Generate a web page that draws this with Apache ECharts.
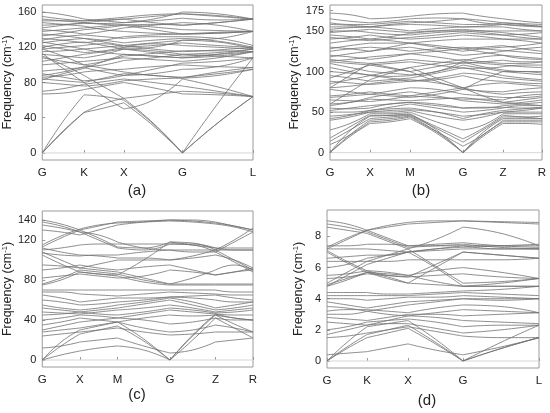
<!DOCTYPE html>
<html>
<head>
<meta charset="utf-8">
<script src="https://cdn.jsdelivr.net/npm/echarts@6/dist/echarts.min.js"></script>
<style>
  html, body { margin: 0; padding: 0; background: #fff; }
  #chart { width: 550px; height: 413px; }
</style>
</head>
<body>
<div id="chart"></div>
<script>
// k-path positions (path length units) and labels for each panel
const kPosA = [0, 42, 82, 141, 212];
const kLabA = ["G", "K", "X", "G", "L"];
const kPosB = [0, 40, 80, 133, 173, 212];
const kLabB = ["G", "X", "M", "G", "Z", "R"];
const kPosC = [0, 38, 76, 129, 175, 213];
const kLabC = ["G", "X", "M", "G", "Z", "R"];
const kPosD = [0, 40, 81, 136, 212];
const kLabD = ["G", "K", "X", "G", "L"];

// y tick labels
const yTicksA = [0, 40, 80, 120, 160];
const yTicksB = [0, 50, 100, 150, 175];
const yTicksC = [0, 40, 80, 120, 140];
const yTicksD = [0, 2, 4, 6, 8];

// sample points along the path: high-symmetry points plus one point mid segment
const sampA = [0, 21, 42, 62, 82, 111.5, 141, 176.5, 212];
const sampB = [0, 20, 40, 60, 80, 106.5, 133, 153, 173, 192.5, 212];
const sampC = [0, 19, 38, 57, 76, 102.5, 129, 152, 175, 194, 213];
const sampD = [0, 20, 40, 60.5, 81, 108.5, 136, 174, 212];

// (a) bands, frequencies in cm-1 read at sampA
const bandsA = [
  [0, 24, 46, 51, 57, 31, 0, 34, 64],
  [0, 25, 46, 56, 62, 34, 0, 34, 64],
  [0, 36, 66, 64, 60, 33, 0, 56, 108],
  [67, 68, 72, 76, 80, 74, 67, 66, 64],
  [70, 73, 78, 81, 84, 80, 76, 70, 64],
  [80, 78, 76, 78, 82, 84, 85, 88, 95],
  [84, 82, 80, 85, 90, 88, 85, 92, 97],
  [86, 88, 92, 94, 95, 98, 100, 98, 97],
  [88, 92, 98, 100, 105, 108, 112, 110, 108],
  [93, 95, 97, 92, 88, 90, 95, 98, 108],
  [100, 102, 104, 106, 108, 106, 104, 108, 115],
  [108, 104, 100, 104, 110, 113, 116, 116, 115],
  [112, 110, 108, 112, 118, 116, 112, 114, 118],
  [115, 116, 118, 120, 122, 118, 115, 117, 120],
  [118, 120, 122, 124, 120, 122, 125, 122, 120],
  [120, 124, 126, 122, 118, 120, 128, 126, 118],
  [125, 128, 130, 128, 125, 128, 130, 127, 120],
  [128, 132, 134, 132, 130, 132, 132, 130, 122],
  [130, 128, 125, 128, 132, 134, 135, 136, 138],
  [133, 136, 140, 142, 145, 140, 135, 137, 138],
  [138, 140, 142, 144, 146, 143, 140, 139, 138],
  [142, 145, 148, 150, 152, 148, 145, 148, 152],
  [145, 146, 147, 147, 148, 150, 153, 151, 152],
  [150, 150, 150, 152, 154, 157, 158, 155, 152],
  [155, 152, 150, 151, 152, 155, 158, 156, 152],
  [160, 157, 152, 150, 148, 152, 160, 158, 152],
  [118, 110, 100, 96, 92, 88, 86, 90, 95],
  [83, 90, 96, 104, 112, 110, 108, 110, 115],
  [110, 100, 88, 75, 62, 66, 70, 68, 64],
  [113, 96, 80, 64, 50, 60, 84, 75, 64],
  [104, 108, 112, 115, 118, 114, 110, 112, 115],
  [122, 118, 114, 116, 120, 124, 122, 120, 118],
  [135, 133, 130, 126, 122, 125, 128, 130, 138],
  [140, 138, 135, 138, 142, 145, 148, 145, 138],
  [148, 146, 144, 140, 138, 136, 135, 136, 138],
  [152, 150, 148, 146, 145, 146, 145, 148, 152],
  [90, 86, 82, 84, 88, 95, 102, 104, 108],
  [126, 122, 118, 114, 112, 110, 108, 112, 118]
];

// (b) bands at sampB
const bandsB = [
  [0, 20, 36, 38, 42, 24, 0, 20, 36, 36, 35],
  [0, 22, 40, 42, 45, 26, 0, 22, 38, 38, 38],
  [0, 27, 45, 46, 48, 28, 0, 25, 42, 42, 42],
  [10, 22, 38, 40, 44, 26, 8, 22, 40, 40, 40],
  [14, 28, 42, 44, 46, 30, 13, 28, 44, 44, 45],
  [18, 32, 46, 46, 47, 32, 17, 30, 46, 44, 42],
  [28, 36, 48, 48, 50, 38, 28, 34, 48, 48, 48],
  [40, 44, 50, 50, 52, 45, 40, 44, 50, 52, 55],
  [42, 46, 52, 54, 55, 50, 42, 48, 52, 54, 56],
  [45, 47, 50, 52, 53, 50, 45, 47, 50, 50, 50],
  [50, 50, 52, 56, 60, 55, 50, 52, 55, 58, 58],
  [52, 55, 58, 60, 62, 58, 55, 56, 56, 55, 55],
  [55, 54, 55, 60, 62, 60, 55, 55, 58, 60, 62],
  [58, 62, 68, 72, 75, 70, 64, 62, 60, 62, 65],
  [60, 62, 66, 65, 64, 66, 68, 65, 62, 65, 68],
  [65, 64, 63, 66, 70, 68, 66, 66, 65, 70, 72],
  [68, 70, 72, 76, 80, 78, 72, 70, 68, 68, 70],
  [70, 72, 75, 72, 70, 75, 80, 75, 72, 74, 75],
  [78, 75, 72, 70, 68, 72, 78, 76, 75, 78, 80],
  [80, 82, 85, 88, 90, 86, 80, 84, 86, 84, 82],
  [85, 90, 95, 92, 88, 92, 98, 96, 92, 90, 88],
  [88, 86, 84, 86, 88, 90, 95, 90, 88, 86, 85],
  [92, 100, 108, 110, 112, 108, 104, 104, 106, 108, 108],
  [95, 92, 88, 90, 92, 98, 105, 100, 95, 92, 90],
  [100, 98, 96, 94, 95, 100, 108, 104, 100, 98, 96],
  [105, 100, 95, 100, 105, 110, 115, 112, 110, 110, 112],
  [110, 105, 100, 98, 96, 100, 112, 106, 102, 100, 100],
  [112, 110, 108, 104, 100, 106, 112, 110, 108, 106, 105],
  [115, 112, 110, 112, 115, 112, 110, 112, 114, 112, 112],
  [113, 115, 118, 120, 122, 118, 113, 118, 120, 116, 115],
  [118, 122, 125, 128, 130, 125, 120, 122, 125, 128, 130],
  [120, 118, 115, 118, 122, 125, 128, 124, 120, 118, 116],
  [125, 128, 130, 128, 125, 128, 130, 128, 126, 124, 122],
  [128, 132, 135, 135, 135, 130, 125, 128, 130, 132, 135],
  [130, 128, 125, 130, 135, 132, 128, 130, 132, 128, 125],
  [135, 138, 140, 138, 135, 138, 140, 140, 140, 138, 135],
  [140, 142, 145, 142, 140, 142, 145, 143, 140, 140, 140],
  [142, 140, 138, 140, 142, 145, 148, 146, 145, 142, 140],
  [145, 143, 140, 143, 147, 150, 152, 150, 148, 145, 142],
  [148, 150, 152, 150, 148, 150, 150, 150, 150, 150, 150],
  [150, 150, 148, 146, 145, 148, 150, 148, 145, 146, 148],
  [152, 154, 155, 153, 150, 153, 155, 155, 155, 152, 150],
  [155, 155, 155, 157, 158, 157, 155, 156, 158, 156, 155],
  [158, 157, 155, 158, 160, 162, 165, 160, 158, 157, 156],
  [160, 158, 158, 160, 162, 160, 158, 158, 160, 158, 155],
  [165, 162, 160, 162, 165, 166, 165, 163, 160, 159, 158],
  [172, 170, 165, 166, 168, 171, 172, 168, 165, 162, 160],
  [80, 95, 110, 105, 100, 88, 78, 90, 100, 100, 98],
  [60, 75, 90, 98, 105, 92, 80, 70, 62, 60, 58]
];

// (c) bands at sampC
const bandsC = [
  [0, 5, 9, 12, 14, 10, 0, 20, 42, 32, 22],
  [0, 14, 26, 30, 34, 19, 0, 24, 45, 36, 28],
  [0, 18, 30, 34, 38, 21, 0, 25, 46, 42, 40],
  [12, 14, 18, 20, 22, 14, 7, 10, 18, 20, 22],
  [24, 26, 28, 30, 32, 28, 25, 26, 28, 28, 28],
  [28, 30, 32, 35, 38, 32, 28, 30, 35, 32, 28],
  [30, 34, 38, 40, 42, 40, 36, 38, 42, 40, 40],
  [35, 38, 42, 40, 38, 42, 45, 44, 45, 42, 40],
  [40, 42, 45, 44, 42, 46, 50, 48, 46, 45, 45],
  [45, 46, 48, 46, 45, 48, 52, 50, 47, 48, 50],
  [48, 47, 46, 48, 50, 52, 55, 52, 48, 50, 52],
  [52, 50, 48, 50, 52, 56, 60, 55, 50, 52, 55],
  [55, 52, 50, 52, 55, 58, 62, 58, 52, 55, 58],
  [60, 58, 55, 56, 58, 60, 63, 62, 60, 58, 58],
  [65, 62, 58, 60, 62, 62, 63, 64, 65, 62, 60],
  [68, 68, 66, 65, 64, 66, 68, 67, 66, 65, 65],
  [70, 70, 70, 70, 70, 70, 70, 70, 70, 68, 68],
  [75, 80, 88, 86, 84, 78, 75, 75, 75, 75, 75],
  [76, 82, 90, 88, 86, 80, 76, 76, 76, 76, 76],
  [82, 84, 86, 84, 82, 84, 90, 88, 85, 88, 90],
  [90, 92, 95, 92, 90, 93, 95, 90, 85, 88, 92],
  [95, 94, 92, 96, 100, 100, 100, 102, 105, 100, 92],
  [108, 100, 92, 90, 88, 82, 76, 82, 90, 95, 90],
  [107, 105, 104, 105, 105, 108, 110, 110, 110, 110, 110],
  [110, 112, 115, 116, 116, 116, 116, 116, 112, 110, 110],
  [113, 122, 130, 134, 138, 139, 140, 139, 137, 134, 130],
  [115, 124, 131, 135, 137, 138, 139, 138, 136, 133, 128],
  [140, 136, 130, 122, 113, 112, 118, 117, 110, 100, 90],
  [138, 134, 128, 120, 112, 110, 116, 115, 108, 98, 88],
  [135, 132, 128, 125, 118, 112, 110, 108, 108, 118, 128],
  [112, 108, 105, 104, 102, 102, 100, 104, 110, 120, 132],
  [105, 96, 88, 86, 85, 100, 118, 115, 112, 112, 112],
  [130, 128, 125, 130, 135, 138, 140, 140, 138, 134, 130]
];

// (d) bands at sampD
const bandsD = [
  [0, 0.8, 1.5, 1.8, 2.1, 1.1, 0, 0.8, 1.5],
  [0, 0.9, 1.7, 2.0, 2.3, 1.2, 0, 0.8, 1.5],
  [0, 1.2, 2.2, 2.4, 2.6, 1.4, 0, 1.2, 2.3],
  [0.4, 0.5, 0.6, 0.85, 1.1, 0.7, 0.4, 0.9, 1.5],
  [1.5, 1.6, 1.8, 2.0, 2.2, 1.9, 1.6, 1.5, 1.5],
  [1.7, 2.0, 2.3, 2.4, 2.4, 2.1, 1.8, 2.0, 2.3],
  [2.0, 2.2, 2.5, 2.6, 2.7, 2.5, 2.2, 2.3, 2.3],
  [2.5, 2.4, 2.3, 2.6, 2.9, 2.8, 2.6, 2.5, 2.4],
  [2.8, 2.7, 2.6, 2.8, 3.0, 3.0, 2.9, 3.0, 3.1],
  [3.0, 3.0, 3.2, 3.0, 2.9, 3.1, 3.3, 3.2, 3.1],
  [3.2, 3.3, 3.3, 3.2, 3.1, 3.4, 3.6, 3.5, 3.1],
  [3.5, 3.4, 3.2, 3.4, 3.6, 3.8, 4.0, 3.9, 4.0],
  [3.8, 3.6, 3.4, 3.6, 3.8, 3.9, 4.0, 4.0, 4.0],
  [4.0, 4.0, 3.9, 4.0, 4.1, 4.1, 4.2, 4.1, 4.0],
  [4.2, 4.2, 4.2, 4.2, 4.2, 4.3, 4.4, 4.3, 4.2],
  [4.4, 4.4, 4.4, 4.3, 4.3, 4.4, 4.5, 4.6, 4.8],
  [4.8, 5.2, 5.7, 5.4, 5.0, 4.9, 4.8, 4.8, 4.8],
  [4.9, 5.3, 5.7, 5.6, 5.5, 5.1, 4.8, 5.0, 5.3],
  [5.3, 5.4, 5.6, 5.5, 5.4, 5.5, 5.6, 5.4, 5.3],
  [5.5, 5.6, 5.8, 5.7, 5.5, 5.8, 6.0, 5.7, 5.3],
  [7.0, 6.3, 5.7, 5.3, 5.0, 6.0, 7.0, 6.8, 6.6],
  [7.1, 6.4, 5.8, 5.5, 5.4, 6.2, 7.0, 6.8, 6.6],
  [4.8, 5.5, 6.2, 6.6, 7.0, 6.0, 4.8, 4.8, 4.8],
  [5.0, 5.7, 6.4, 6.8, 7.2, 6.1, 5.0, 5.1, 5.3],
  [6.4, 6.4, 6.4, 6.4, 6.5, 6.5, 6.5, 6.5, 6.6],
  [6.0, 6.2, 6.6, 6.8, 7.0, 7.2, 7.4, 7.2, 7.2],
  [7.2, 7.8, 8.4, 8.7, 8.9, 9.0, 9.0, 8.95, 8.9],
  [7.3, 7.9, 8.4, 8.6, 8.8, 8.9, 9.0, 8.9, 8.8],
  [9.0, 8.8, 8.4, 7.9, 7.4, 7.5, 7.6, 7.4, 7.3],
  [8.8, 8.6, 8.3, 7.8, 7.3, 7.4, 7.5, 7.3, 7.2],
  [8.6, 8.4, 8.2, 7.7, 7.2, 7.8, 8.6, 8.2, 7.4],
  [7.4, 7.4, 7.5, 7.5, 7.4, 7.4, 7.4, 7.4, 7.4],
  [7.2, 7.2, 7.2, 7.1, 7.0, 7.1, 7.2, 7.2, 7.2],
  [6.6, 6.7, 6.8, 6.8, 7.0, 7.2, 7.3, 7.4, 7.5]
];

const FONT = "Liberation Sans";
const LINE = "#707070";

const panels = [
  { grid: { left: 41, top: 5, width: 212, height: 155 }, kPos: kPosA, kLab: kLabA, yTicks: yTicksA, yMin: -8, yMax: 168, samp: sampA, bands: bandsA, nameGap: 27, tag: "(a)", tagX: 137, tagY: 191 },
  { grid: { left: 330, top: 5, width: 212, height: 155 }, kPos: kPosB, kLab: kLabB, yTicks: yTicksB, yMin: -9, yMax: 182, samp: sampB, bands: bandsB, nameGap: 29, tag: "(b)", tagX: 421, tagY: 191 },
  { grid: { left: 40, top: 211, width: 213, height: 156 }, kPos: kPosC, kLab: kLabC, yTicks: yTicksC, yMin: -7, yMax: 149, samp: sampC, bands: bandsC, nameGap: 27, tag: "(c)", tagX: 137, tagY: 395 },
  { grid: { left: 327, top: 210, width: 212, height: 158 }, kPos: kPosD, kLab: kLabD, yTicks: yTicksD, yMin: -0.45, yMax: 9.7, samp: sampD, bands: bandsD, nameGap: 22, tag: "(d)", tagX: 427, tagY: 401 }
];

// each path segment is smoothed on its own, with a break at every high-symmetry point
function bandData(samp, b) {
  const out = [];
  for (let s = 0; s + 2 < samp.length; s += 2) {
    if (s > 0) out.push([samp[s], null]);
    for (let j = s; j <= s + 2; j++) out.push([samp[j], b[j]]);
  }
  return out;
}

const grids = [], xAxes = [], yAxes = [], series = [], graphics = [];

panels.forEach((p, i) => {
  grids.push(Object.assign({ show: true, borderColor: "#9a9a9a", borderWidth: 1, backgroundColor: "transparent" }, p.grid));

  xAxes.push({
    type: "value", gridIndex: i, min: 0, max: p.kPos[p.kPos.length - 1],
    axisLine: { show: false },
    splitLine: { show: false },
    axisTick: { show: true, inside: true, length: 3, lineStyle: { color: "#9a9a9a" }, customValues: p.kPos },
    axisLabel: {
      customValues: p.kPos, margin: 7, color: "#222", fontSize: 11.5, fontFamily: FONT,
      formatter: v => p.kLab[p.kPos.indexOf(v)] || ""
    }
  });

  yAxes.push({
    type: "value", gridIndex: i, min: p.yMin, max: p.yMax,
    name: "{t|Frequency (cm}{s|-1}{t|)}",
    nameLocation: "middle", nameGap: p.nameGap, nameRotate: 90,
    nameTextStyle: {
      rich: {
        t: { fontSize: 12.5, fontFamily: FONT, color: "#222" },
        s: { fontSize: 7.5, fontFamily: FONT, color: "#222", verticalAlign: "top", padding: [0, 0, 5, 0] }
      }
    },
    axisLine: { show: false },
    splitLine: { show: false },
    axisTick: { show: true, inside: true, length: 3, lineStyle: { color: "#9a9a9a" }, customValues: p.yTicks },
    axisLabel: { customValues: p.yTicks, margin: 6, color: "#222", fontSize: 11, fontFamily: FONT }
  });

  // light zero line
  series.push({
    type: "line", xAxisIndex: i, yAxisIndex: i, silent: true, showSymbol: false,
    data: [[0, 0], [p.kPos[p.kPos.length - 1], 0]],
    lineStyle: { color: "#d6d6d6", width: 1 }
  });

  p.bands.forEach(b => {
    series.push({
      type: "line", xAxisIndex: i, yAxisIndex: i, silent: true,
      showSymbol: false, smooth: 0.5, connectNulls: false,
      data: bandData(p.samp, b),
      lineStyle: { color: LINE, width: 0.8 }
    });
  });

  graphics.push({
    type: "text", x: p.tagX, y: p.tagY,
    style: { text: p.tag, font: "15px " + FONT, fill: "#222", align: "center", verticalAlign: "middle" }
  });
});

const chart = echarts.init(document.getElementById("chart"), null, { renderer: "canvas" });
chart.setOption({
  animation: false,
  backgroundColor: "#fff",
  grid: grids,
  xAxis: xAxes,
  yAxis: yAxes,
  series: series,
  graphic: graphics
});
</script>
</body>
</html>
